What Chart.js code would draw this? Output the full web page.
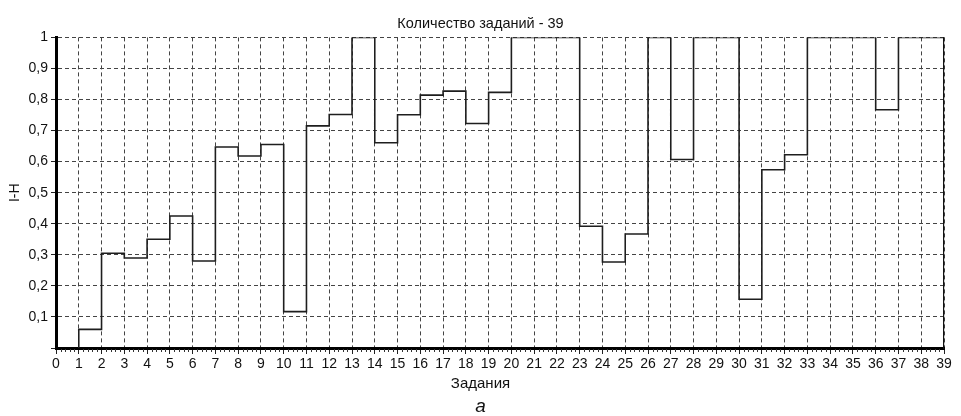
<!DOCTYPE html>
<html>
<head>
<meta charset="utf-8">
<script src="https://cdn.jsdelivr.net/npm/chart.js@4/dist/chart.umd.min.js"></script>
<style>
  html, body { margin: 0; padding: 0; background: #fff; }
  #wrap { width: 961px; height: 416px; }
</style>
</head>
<body>
<div id="wrap"><canvas id="myChart"></canvas></div>
<script>
// task number (x where each step ends) and I-H value of that task
const tasks = [1, 2, 3, 4, 5, 6, 7, 8, 9, 10, 11, 12, 13, 14, 15, 16, 17, 18, 19, 20,
  21, 22, 23, 24, 25, 26, 27, 28, 29, 30, 31, 32, 33, 34, 35, 36, 37, 38, 39];
const values = [0, 0.06, 0.305, 0.29, 0.35, 0.425, 0.28, 0.647, 0.618, 0.655,
  0.117, 0.715, 0.752, 1, 0.661, 0.751, 0.814, 0.827, 0.723, 0.823,
  1, 1, 1, 0.392, 0.277, 0.367, 1, 0.607, 1, 1,
  0.157, 0.574, 0.622, 1, 1, 1, 0.767, 1, 1];
const yTicks = [0, 0.1, 0.2, 0.3, 0.4, 0.5, 0.6, 0.7, 0.8, 0.9, 1];

const points = tasks.map((t, i) => ({ x: t, y: values[i] }));

const FONT = "'Liberation Sans', Arial, sans-serif";

// small ticks under the x axis and the "а" caption
const extras = {
  id: "extras",
  afterDraw(chart) {
    const ctx = chart.ctx;
    const xs = chart.scales.x;
    const bottom = chart.chartArea.bottom;
    ctx.save();
    ctx.strokeStyle = "#333";
    ctx.lineWidth = 1;
    ctx.beginPath();
    for (let i = 0; i < 39; i++) {
      for (let k = 1; k < 5; k++) {
        const px = Math.round(xs.getPixelForValue(i + k / 5)) + 0.5;
        ctx.moveTo(px, bottom + 1);
        ctx.lineTo(px, bottom + 4);
      }
    }
    ctx.stroke();
    ctx.fillStyle = "#111";
    ctx.font = "italic 19px " + FONT;
    ctx.textAlign = "center";
    ctx.textBaseline = "middle";
    ctx.fillText("а", chart.width / 2, 407);
    ctx.restore();
  },
};

const data = {
  datasets: [
    {
      label: "I-H",
      data: points,
      stepped: "after",
      borderColor: "#1e1e1e",
      borderWidth: 1.6,
      pointRadius: 0,
      fill: false,
    },
  ],
};

const config = {
  type: "line",
  data: data,
  plugins: [extras],
  options: {
    responsive: true,
    maintainAspectRatio: false,
    animation: false,
    layout: { padding: { left: 0, right: 0, top: 0, bottom: 23 } },
    plugins: {
      legend: { display: false },
      tooltip: { enabled: false },
      title: {
        display: true,
        text: "Количество заданий - 39",
        color: "#111",
        font: { family: FONT, size: 14.5, weight: "normal" },
        padding: { top: 15, bottom: 5 },
      },
      subtitle: {
        display: true,
        position: "bottom",
        text: "Задания",
        color: "#111",
        font: { family: FONT, size: 15, weight: "normal" },
        padding: { top: 3, bottom: 0 },
      },
    },
    scales: {
      x: {
        type: "linear",
        min: 0,
        max: 39,
        afterFit(scale) { scale.height = 24; },
        ticks: {
          stepSize: 1,
          autoSkip: false,
          maxRotation: 0,
          padding: 2,
          color: "#111",
          font: { family: FONT, size: 14 },
        },
        grid: {
          color: "#444",
          lineWidth: 1,
          tickLength: 6,
          tickColor: "#222",
        },
        border: { display: true, color: "#000", width: 3, dash: [4, 3] },
      },
      y: {
        min: 0,
        max: 1,
        afterFit(scale) { scale.width = 56; },
        afterBuildTicks(scale) { scale.ticks = yTicks.map((v) => ({ value: v })); },
        ticks: {
          padding: 3,
          color: "#111",
          font: { family: FONT, size: 14 },
          callback: (v) => (v === 0 ? "" : String(Math.round(v * 10) / 10).replace(".", ",")),
        },
        title: {
          display: true,
          text: "I-H",
          color: "#111",
          font: { family: FONT, size: 14 },
          padding: { top: 7, bottom: 0 },
        },
        grid: {
          color: "#444",
          lineWidth: 1,
          tickLength: 5,
          tickColor: "#222",
        },
        border: { display: true, color: "#000", width: 3, dash: [4, 3] },
      },
      y2: {
        position: "right",
        min: 0,
        max: 1,
        afterFit(scale) { scale.width = 17; },
        ticks: { display: false },
        grid: { display: false, drawTicks: false },
        border: { display: true, color: "#111", width: 1.2 },
      },
    },
  },
};

const myChart = new Chart(document.getElementById("myChart"), config);
</script>
</body>
</html>
